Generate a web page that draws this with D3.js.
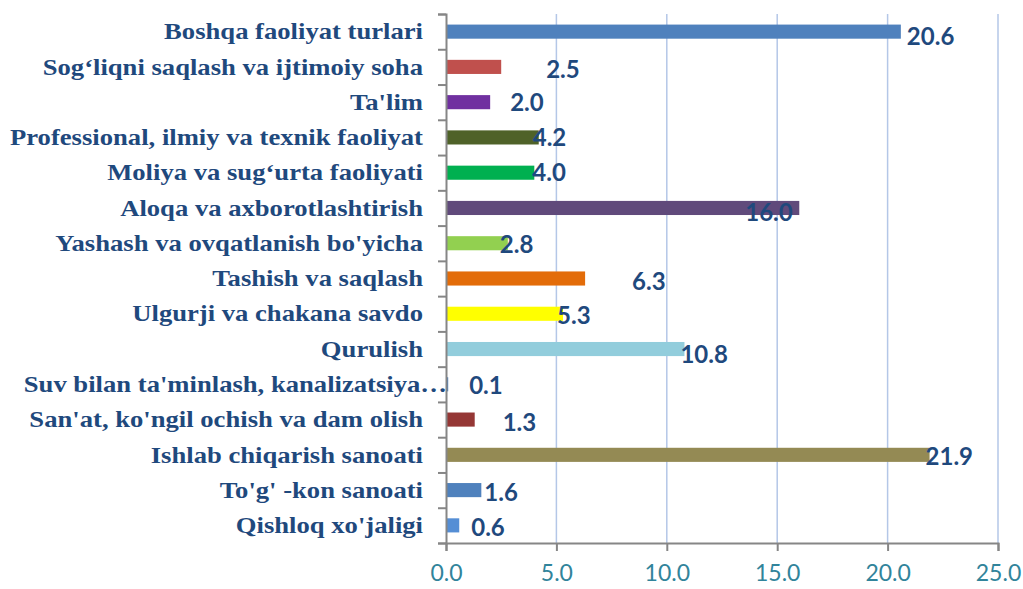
<!DOCTYPE html>
<html>
<head>
<meta charset="utf-8">
<script src="https://cdn.jsdelivr.net/npm/d3@7"></script>
<style>
  body { margin: 0; background: #fff; }
  .cat { font-family: "Liberation Serif", "Times New Roman", serif; font-weight: bold; fill: #1F497D; }
  .val { font-family: Lato, "Open Sans", sans-serif; font-weight: bold; fill: #1F497D; }
  .xt text { font-family: Lato, "Open Sans", sans-serif; fill: #31849B; }
</style>
</head>
<body>
<div class="chart"></div>
<script>
// categories, top to bottom as in the picture
var categories = [
  "Boshqa faoliyat turlari",
  "Sog\u2018liqni saqlash va ijtimoiy soha",
  "Ta'lim",
  "Professional, ilmiy va texnik faoliyat",
  "Moliya va sug\u2018urta faoliyati",
  "Aloqa va axborotlashtirish",
  "Yashash va ovqatlanish bo'yicha",
  "Tashish va saqlash",
  "Ulgurji va chakana savdo",
  "Qurulish",
  "Suv bilan ta'minlash, kanalizatsiya\u2026",
  "San'at, ko'ngil ochish va dam olish",
  "Ishlab chiqarish sanoati",
  "To'g' -kon sanoati",
  "Qishloq xo'jaligi"
];
var values = [20.6, 2.5, 2.0, 4.2, 4.0, 16.0, 2.8, 6.3, 5.3, 10.8, 0.1, 1.3, 21.9, 1.6, 0.6];
var xTicks = [0, 5, 10, 15, 20, 25];

// styling, one per bar
var barColors = ["#4F81BD", "#C0504D", "#7030A0", "#4F6228", "#00B050", "#604A7B", "#92D050",
  "#E36C09", "#FFFF00", "#92CDDC", "#4F81BD", "#953735", "#948A54", "#4F81BD", "#558ED5"];
// data label nudges (px) off the bar end, the way Excel left them
var labelShift = [[6, 5], [45, 3], [20, 0], [-6, 0], [-2, 0], [-54, 5], [-8, 1], [47, 3],
  [-6, 2], [-4, 6], [21, 1], [28, 3], [-4, 2], [3, 2], [12, 2]];

var svgWidth = 1023;
var svgHeight = 589;
var margin = { top: 14, right: 25, bottom: 46, left: 446 };
var width = svgWidth - margin.left - margin.right;
var height = svgHeight - margin.top - margin.bottom;

var svg = d3.select(".chart")
  .append("svg")
  .attr("width", svgWidth)
  .attr("height", svgHeight);

var chart = svg.append("g")
  .attr("transform", "translate(" + margin.left + "," + margin.top + ")");

var xScale = d3.scaleLinear().domain([0, 25]).range([0, width]);
var yBand = d3.scaleBand().domain(categories).range([0, height]).padding(0);
// boundaries between categories, used for the axis ticks
var yEdge = d3.scaleLinear().domain([0, categories.length]).range([0, height]);

// gridlines
chart.append("g")
  .selectAll("line")
  .data(xTicks.slice(1))
  .enter().append("line")
  .attr("x1", function(d) { return xScale(d); })
  .attr("x2", function(d) { return xScale(d); })
  .attr("y1", 0)
  .attr("y2", height)
  .attr("stroke", "#B4C7E7")
  .attr("stroke-width", 1.5);

// bars
var barH = yBand.step() * 0.4;
chart.append("g")
  .selectAll("rect")
  .data(values)
  .enter().append("rect")
  .attr("x", 0)
  .attr("y", function(d, i) { return yBand(categories[i]) + (yBand.step() - barH) / 2; })
  .attr("width", function(d) { return xScale(d); })
  .attr("height", barH)
  .attr("fill", function(d, i) { return barColors[i]; });

// x axis
var bottomAxis = d3.axisBottom(xScale)
  .tickValues(xTicks)
  .tickSize(8)
  .tickPadding(14)
  .tickFormat(d3.format(".1f"));

var xg = chart.append("g")
  .attr("class", "xt")
  .attr("transform", "translate(0," + height + ")")
  .call(bottomAxis);
xg.select(".domain").attr("stroke", "#868686").attr("stroke-width", 2);
xg.selectAll(".tick line").attr("stroke", "#868686").attr("stroke-width", 2);
xg.selectAll(".tick text").attr("font-size", "23px");

// y axis: ticks on category edges
var leftAxis = d3.axisLeft(yEdge)
  .tickValues(d3.range(categories.length + 1))
  .tickSize(8)
  .tickFormat("");
var yg = chart.append("g").call(leftAxis);
yg.select(".domain").attr("stroke", "#868686").attr("stroke-width", 2);
yg.selectAll(".tick line").attr("stroke", "#868686").attr("stroke-width", 2);

// category labels (the source font is a touch wider than Liberation Serif)
chart.append("g")
  .selectAll("text")
  .data(categories)
  .enter().append("text")
  .attr("class", "cat")
  .attr("transform", function(d) {
    var x = /\u2026$/.test(d) ? 1 : -23;   // the cut-off label runs up to the axis
    return "translate(" + x + "," + (yBand(d) + yBand.step() / 2) + ") scale(1.11,1)";
  })
  .attr("dy", "0.32em")
  .attr("text-anchor", "end")
  .attr("font-size", "24px")
  .text(function(d) { return d; });

// value labels
chart.append("g")
  .selectAll("text")
  .data(values)
  .enter().append("text")
  .attr("class", "val")
  .attr("x", function(d, i) { return xScale(d) + labelShift[i][0]; })
  .attr("y", function(d, i) { return yBand(categories[i]) + yBand.step() / 2 + labelShift[i][1]; })
  .attr("dy", "0.35em")
  .attr("font-size", "24px")
  .text(function(d) { return d3.format(".1f")(d); });
</script>
</body>
</html>
